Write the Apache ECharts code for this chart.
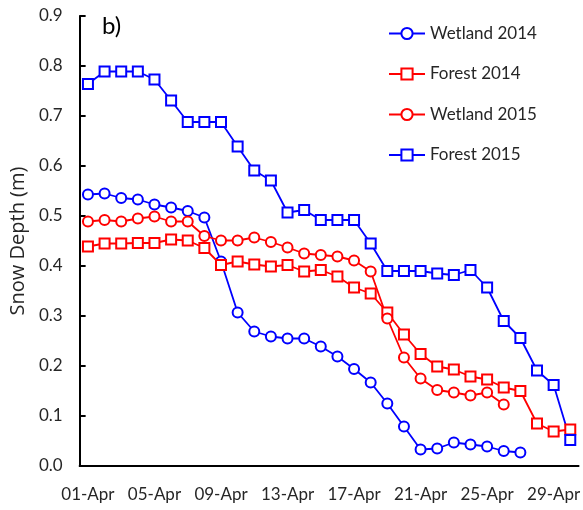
<!DOCTYPE html>
<html>
<head>
<meta charset="utf-8">
<script src="https://cdn.jsdelivr.net/npm/echarts@6/dist/echarts.min.js"></script>
<style>html,body{margin:0;padding:0;background:#fff}#c{width:583px;height:510px}</style>
</head>
<body>
<div id="c"></div>
<script>
var days = [];
for (var i = 1; i <= 30; i++) days.push((i < 10 ? '0' + i : '' + i) + '-Apr');

var wetland2014 = [0.543,0.545,0.536,0.533,0.523,0.517,0.510,0.497,0.409,0.307,0.269,0.259,0.255,0.255,0.239,0.219,0.194,0.167,0.125,0.079,0.033,0.035,0.047,0.043,0.039,0.030,0.027,null,null,null];
var forest2014 = [0.439,0.445,0.445,0.446,0.446,0.453,0.451,0.436,0.402,0.409,0.403,0.399,0.402,0.389,0.392,0.379,0.357,0.345,0.307,0.263,0.224,0.199,0.193,0.179,0.173,0.157,0.150,0.085,0.069,0.073];
var wetland2015 = [0.489,0.492,0.489,0.495,0.499,0.489,0.489,0.460,0.451,0.451,0.457,0.448,0.437,0.425,0.422,0.419,0.411,0.389,0.295,0.217,0.175,0.152,0.147,0.141,0.147,0.123,null,null,null,null];
var forest2015 = [0.764,0.789,0.789,0.789,0.773,0.731,0.688,0.688,0.688,0.639,0.591,0.571,0.507,0.512,0.492,0.492,0.492,0.445,0.390,0.390,0.390,0.385,0.382,0.392,0.357,0.290,0.256,0.191,0.162,0.052];

var FONT = 'Lato';
function mk(name, data, color, symbol) {
  return {
    name: name, type: 'line', data: data,
    symbol: symbol, symbolSize: 10,
    lineStyle: {color: color, width: 1.8},
    itemStyle: {color: color, borderColor: color, borderWidth: 1.8},
    connectNulls: false
  };
}
var chart = echarts.init(document.getElementById('c'));
chart.setOption({
  animation: false,
  backgroundColor: '#fff',
  grid: {left: 75, top: 16, right: 3, bottom: 44, containLabel: false},
  legend: {
    orient: 'vertical', left: 383, top: 20,
    itemWidth: 36, itemHeight: 14, itemGap: 23.5,
    textStyle: {fontFamily: FONT, fontSize: 17, color: '#262626'},
    data: ['Wetland 2014', 'Forest 2014', 'Wetland 2015', 'Forest 2015']
  },
  graphic: [{
    type: 'text', left: 102, top: 14,
    style: {text: 'b)', font: '24px Lato', fill: '#000'}
  }],
  xAxis: {
    type: 'category', data: days, boundaryGap: true,
    axisLine: {lineStyle: {color: '#000', width: 2}},
    axisTick: {inside: true, interval: 3, length: 6, lineStyle: {color: '#000', width: 2}},
    axisLabel: {interval: 3, fontFamily: FONT, fontSize: 17, color: '#262626', margin: 20},
    splitLine: {show: false}
  },
  yAxis: {
    type: 'value', min: 0, max: 0.9, interval: 0.1,
    name: 'Snow Depth (m)', nameLocation: 'middle', nameRotate: 90, nameGap: 46,
    nameTextStyle: {fontFamily: 'Open Sans', fontSize: 20, color: '#262626'},
    axisLine: {show: true, lineStyle: {color: '#000', width: 2}},
    axisTick: {show: true, inside: true, length: 6, lineStyle: {color: '#000', width: 2}},
    axisLabel: {fontFamily: FONT, fontSize: 17, color: '#262626', margin: 17,
      formatter: function (v) { return v.toFixed(1); }},
    splitLine: {show: false}
  },
  series: [
    mk('Wetland 2014', wetland2014, '#0000FF', 'emptyCircle'),
    mk('Forest 2014', forest2014, '#FF0000', 'emptyRect'),
    mk('Wetland 2015', wetland2015, '#FF0000', 'emptyCircle'),
    mk('Forest 2015', forest2015, '#0000FF', 'emptyRect')
  ]
});
</script>
</body>
</html>
